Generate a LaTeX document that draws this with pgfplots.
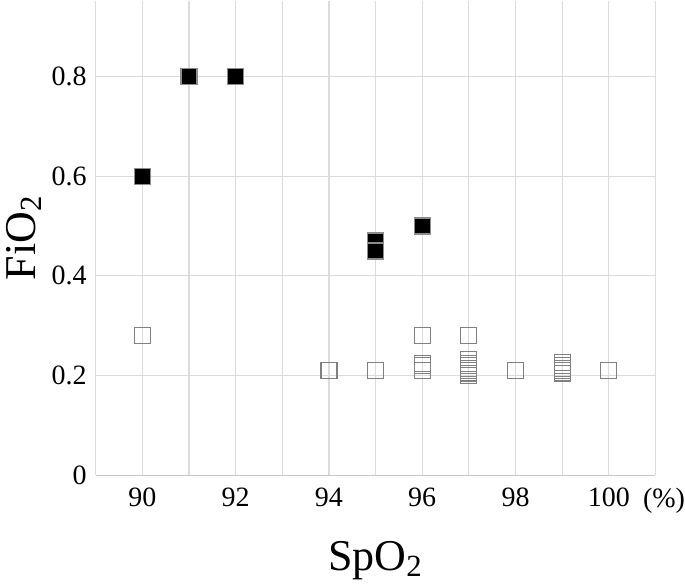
\documentclass[border=0pt]{standalone}
\usepackage{pgfplots}
\pgfplotsset{compat=1.18}
\usepackage{fontspec}
\setmainfont{Liberation Serif}
\begin{document}
\begin{tikzpicture}
\begin{axis}[
  scale only axis,
  width=280pt, height=237.5pt,
  xmin=89, xmax=101, ymin=0, ymax=0.952,
  xtick={90,92,94,96,98,100},
  minor xtick={89,91,93,95,97,99,101},
  ytick={0,0.2,0.4,0.6,0.8},
  grid=both,
  major grid style={draw=black!14, line width=0.6pt},
  minor grid style={draw=black!14, line width=0.6pt},
  axis x line*=bottom, axis y line*=left,
  x axis line style={draw=black!22, line width=0.8pt, -},
  y axis line style={draw=none},
  major tick length=0pt, minor tick length=0pt,
  /pgf/number format/assume math mode=true,
  yticklabel style={/pgf/number format/fixed, /pgf/number format/precision=1, font=\fontsize{14}{16}\selectfont, xshift=-1pt},
  xticklabel style={font=\fontsize{14}{16}\selectfont, yshift=-3pt},
  xlabel={SpO\textsubscript{2}},
  ylabel={FiO\textsubscript{2}},
  xlabel style={font=\fontsize{22}{24}\selectfont, yshift=-10pt},
  ylabel style={font=\fontsize{22}{24}\selectfont, yshift=-2pt},
  clip=false,
]
\addplot[only marks, mark=square*, mark size=4pt, mark options={fill=black, draw=black!45, line width=0.6pt}] coordinates {
(90,0.6) (91,0.8) (92,0.8) (95,0.47) (95,0.45) (96,0.5)
};
\addplot[only marks, mark=square, mark size=4pt, mark options={draw=black!50, line width=0.6pt}] coordinates {
(90,0.28) (94,0.21) (95,0.21)
(96,0.28) (96,0.21) (96,0.22) (96,0.225)
(97,0.28) (97,0.20) (97,0.205) (97,0.21) (97,0.215) (97,0.22) (97,0.225) (97,0.233)
(98,0.21)
(99,0.205) (99,0.21) (99,0.215) (99,0.22) (99,0.227)
(100,0.21)
};
\node[anchor=base east, inner xsep=0pt, font=\fontsize{14}{16}\selectfont] at ([xshift=15pt,yshift=-16pt]rel axis cs:1,0) {(\%)};
\end{axis}
\end{tikzpicture}
\end{document}
